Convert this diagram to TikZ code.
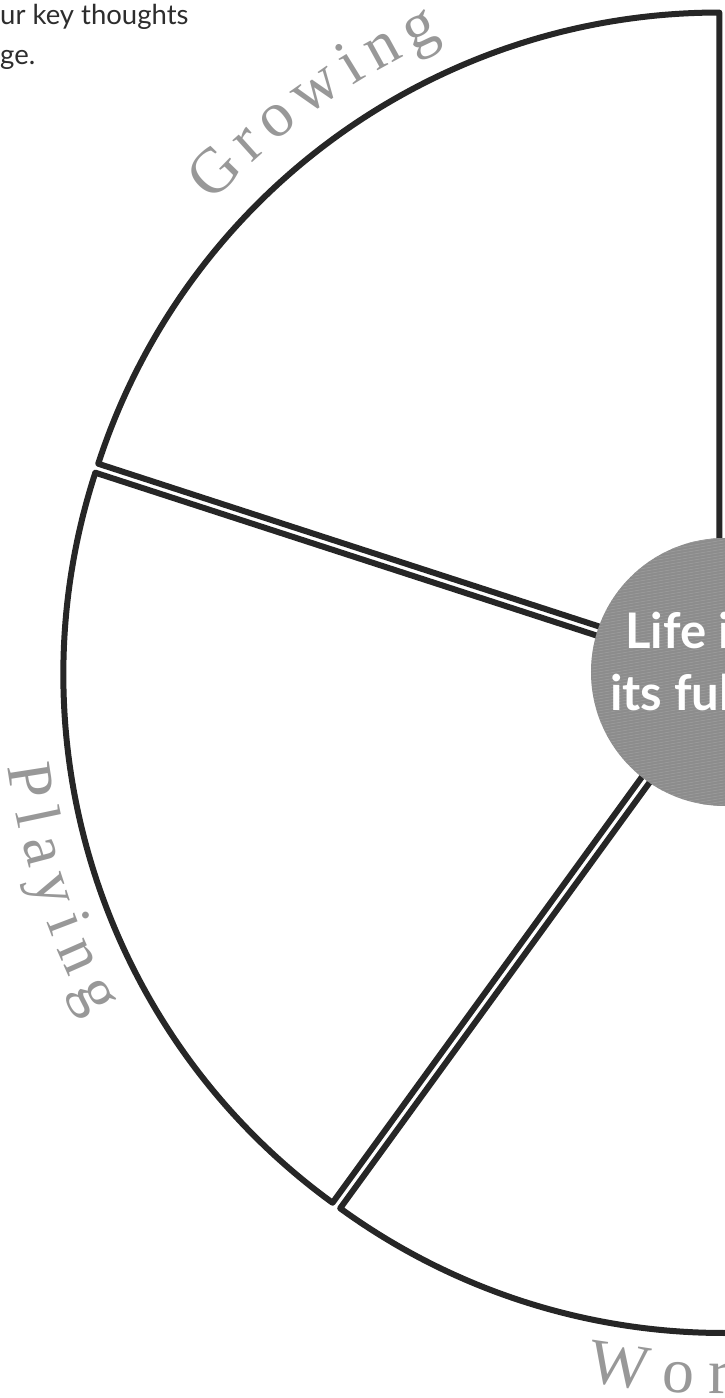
\documentclass[tikz,border=0pt]{standalone}
\usepackage{fontspec}
\setsansfont{Lato}
\newfontfamily\ringface{Liberation Serif}
\usetikzlibrary{decorations.text}
\definecolor{WheelLine}{RGB}{38,38,38}
\definecolor{LabelGray}{RGB}{152,152,152}
\definecolor{HubGray}{RGB}{140,140,140}
\definecolor{HubLight}{RGB}{156,156,156}
\definecolor{NoteText}{RGB}{45,45,45}
\newcommand{\ringfont}{\ringface\fontsize{64}{74}\selectfont\color{LabelGray}}

\begin{document}
\begin{tikzpicture}[x=1pt, y=1pt,
  sector/.style={draw=WheelLine, line width=6pt, line join=round, fill=white},
  note/.style={anchor=base west, inner sep=0pt, text=NoteText, font=\sffamily\fontsize{27.5}{33}\selectfont},
  hubtext/.style={anchor=base west, inner sep=0pt, text=white, font=\sffamily\bfseries\fontsize{49}{58}\selectfont}]
  \useasboundingbox (-724,-726) rectangle (1,672);

  % sectors of the wheel
  \draw[sector] (126:8) -- ++(90:653) arc[start angle=90, end angle=162, radius=653] -- cycle;
  \draw[sector] (198:8) -- ++(162:653) arc[start angle=162, end angle=234, radius=653] -- cycle;
  \draw[sector] (270:8) -- ++(234:653) arc[start angle=234, end angle=306, radius=653] -- cycle;

  % hub
  \node[circle, fill=HubGray, minimum size=268pt, inner sep=0pt] (hub) at (1,0) {};
  \begin{scope}
    \clip (hub.center) circle (134);
    \foreach \k in {-180,-177,...,180}
      \draw[HubLight, line width=0.6pt] (-150,\k-25) -- (150,\k+25);
  \end{scope}
  \node[hubtext] (lifein) at (-99,24) {Life i};
  \node[hubtext] (fullness) at (-114,-38) {its ful};

  % note at the top
  \node[note] (noteone) at (-724,647) {ur key thoughts};
  \node[note] (notetwo) at (-724,607) {ge.};

  % ring labels
  \path[decorate, decoration={text along path, text align=fit to path,
    text={|\ringfont|Growing}}] (137.5:694) arc[start angle=137.5, end angle=114, radius=694];
  \path[decorate, decoration={text along path, text align=fit to path,
    text={|\ringfont|Playing}}] (187.5:722) arc[start angle=187.5, end angle=208.5, radius=722];
  \path[decorate, decoration={text along path, text align=fit to path,
    text={|\ringfont|Wor}}] (259:722) arc[start angle=259, end angle=270.5, radius=722];
\end{tikzpicture}
\end{document}
